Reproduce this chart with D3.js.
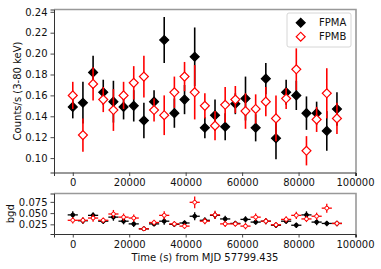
<!DOCTYPE html>
<html>
<head>
<meta charset="utf-8">
<script src="https://cdn.jsdelivr.net/npm/d3@7"></script>
<style>
  body { margin: 0; background: #fff; }
  svg { display: block; font-family: "DejaVu Sans", sans-serif; }
</style>
</head>
<body>
<div id="chart"></div>
<script>
// Temps depuis MJD 57799.435 (s)
const time = [0, 3600, 7200, 10800, 14400, 18000, 21600, 25200, 28800, 32400, 36000, 39600, 43200, 46800,
  50400, 54000, 57600, 61200, 64800, 68400, 72000, 75600, 79200, 82800, 86400, 90000, 93600];
const binHalfWidth = 1800;

// Taux de comptage 3-80 keV
const fpmaRate = [0.149, 0.153, 0.182, 0.163, 0.154, 0.149, 0.150, 0.136, 0.154, 0.213, 0.143, 0.156, 0.197, 0.129,
  0.141, 0.130, 0.152, 0.157, 0.129, 0.176, 0.119, 0.163, 0.160, 0.143, 0.143, 0.126, 0.147];
const fpmaErr = [0.011, 0.020, 0.016, 0.012, 0.020, 0.012, 0.015, 0.017, 0.011, 0.022, 0.014, 0.014, 0.028, 0.010,
  0.015, 0.013, 0.010, 0.021, 0.013, 0.015, 0.020, 0.012, 0.014, 0.016, 0.011, 0.019, 0.016];
const fpmbRate = [0.160, 0.122, 0.171, 0.156, 0.146, 0.160, 0.172, 0.178, 0.146, 0.141, 0.163, 0.178, 0.163, 0.150,
  0.131, 0.151, 0.156, 0.145, 0.147, 0.154, 0.138, 0.157, 0.185, 0.107, 0.137, 0.162, 0.138];
const fpmbErr = [0.013, 0.016, 0.016, 0.012, 0.020, 0.013, 0.016, 0.020, 0.011, 0.019, 0.015, 0.014, 0.026, 0.012,
  0.014, 0.017, 0.013, 0.017, 0.014, 0.014, 0.022, 0.010, 0.020, 0.014, 0.012, 0.024, 0.015];

// Fond (bgd)
const bgdA = [0.046, 0.033, 0.045, 0.032, 0.041, 0.032, 0.026, 0.015, 0.026, 0.032, 0.025, 0.028, 0.043, 0.034,
  0.045, 0.037, 0.027, 0.036, 0.030, 0.032, 0.023, 0.032, 0.023, 0.046, 0.030, 0.027, 0.027];
const bgdAErr = [0.008, 0.007, 0.007, 0.006, 0.008, 0.007, 0.007, 0.005, 0.006, 0.008, 0.006, 0.006, 0.009, 0.007,
  0.008, 0.007, 0.006, 0.007, 0.006, 0.007, 0.006, 0.006, 0.006, 0.008, 0.007, 0.006, 0.006];
const bgdB = [0.034, 0.034, 0.039, 0.034, 0.048, 0.041, 0.039, 0.015, 0.029, 0.045, 0.026, 0.021, 0.074, 0.032,
  0.046, 0.026, 0.026, 0.021, 0.041, 0.032, 0.024, 0.036, 0.045, 0.037, 0.043, 0.061, 0.027];
const bgdBErr = [0.007, 0.007, 0.008, 0.006, 0.009, 0.008, 0.008, 0.005, 0.006, 0.009, 0.006, 0.006, 0.013, 0.007,
  0.009, 0.007, 0.006, 0.007, 0.008, 0.007, 0.006, 0.007, 0.008, 0.007, 0.008, 0.010, 0.006];

const xTicks = [0, 20000, 40000, 60000, 80000, 100000];
const rateTicks = [0.10, 0.12, 0.14, 0.16, 0.18, 0.20, 0.22, 0.24];
const bgdTicks = [0.025, 0.050, 0.075];

const width = 381, height = 269;
const left = 54, right = 356;
const top1 = 9.5, bottom1 = 172.5;
const top2 = 193.5, bottom2 = 234;

const svg = d3.select('#chart').append('svg')
  .attr('width', width)
  .attr('height', height);

const x = d3.scaleLinear().domain([-6650, 100350]).range([left, right]);
const y1 = d3.scaleLinear().domain([0.0862, 0.2422]).range([bottom1, top1]);
const y2 = d3.scaleLinear().domain([0.0035, 0.0936]).range([bottom2, top2]);

// Cadre d'un panneau : haut/droite gris, gauche/bas foncés
const drawFrame = (y0, y1p) => {
  svg.append('path')
    .attr('d', `M${left},${y0}H${right}V${y1p}`)
    .attr('fill', 'none').attr('stroke', '#999').attr('stroke-width', 1.6);
};

const styleAxis = g => {
  g.select('.domain').attr('stroke', '#333').attr('stroke-width', 1);
  g.selectAll('.tick line').attr('stroke', '#333').attr('stroke-width', 0.9);
  g.selectAll('.tick text').attr('fill', '#111').style('font-size', '10px')
    .style('font-family', '"DejaVu Sans", sans-serif');
};

drawFrame(top1, bottom1);
drawFrame(top2, bottom2);

svg.append('g').attr('transform', `translate(0,${bottom1})`)
  .call(d3.axisBottom(x).tickValues(xTicks).tickFormat(d3.format('d')).tickSizeOuter(0).tickSize(3.5).tickPadding(3))
  .call(styleAxis);
svg.append('g').attr('transform', `translate(${left},0)`)
  .call(d3.axisLeft(y1).tickValues(rateTicks).tickFormat(d3.format('.2f')).tickSizeOuter(0).tickSize(3.5).tickPadding(3))
  .call(styleAxis);
svg.append('g').attr('transform', `translate(0,${bottom2})`)
  .call(d3.axisBottom(x).tickValues(xTicks).tickFormat(d3.format('d')).tickSizeOuter(0).tickSize(3.5).tickPadding(3))
  .call(styleAxis);
svg.append('g').attr('transform', `translate(${left},0)`)
  .call(d3.axisLeft(y2).tickValues(bgdTicks).tickFormat(d3.format('.3f')).tickSizeOuter(0).tickSize(3.5).tickPadding(3))
  .call(styleAxis);

// Libellés des axes
svg.append('text')
  .attr('transform', `translate(17,${(top1 + bottom1) / 2}) rotate(-90)`)
  .attr('text-anchor', 'middle').attr('dominant-baseline', 'central')
  .style('font-size', '10px').attr('fill', '#111')
  .text('Counts/s (3-80 keV)');
svg.append('text')
  .attr('transform', `translate(10,${(top2 + bottom2) / 2}) rotate(-90)`)
  .attr('text-anchor', 'middle').attr('dominant-baseline', 'central')
  .style('font-size', '10px').attr('fill', '#111')
  .text('bgd');
svg.append('text')
  .attr('x', (left + right) / 2).attr('y', 260.5)
  .attr('text-anchor', 'middle')
  .style('font-size', '10px').attr('fill', '#111')
  .text('Time (s) from MJD 57799.435');

const diamond = d3.symbol().type(d3.symbolSquare).size(40);

const seriesTop = [
  { name: 'FPMA', rate: fpmaRate, err: fpmaErr, color: '#000', fill: '#000' },
  { name: 'FPMB', rate: fpmbRate, err: fpmbErr, color: '#f00', fill: '#fff' }
];

seriesTop.forEach(s => {
  const g = svg.append('g');
  g.selectAll('line.err')
    .data(time)
    .join('line')
    .attr('class', 'err')
    .attr('x1', d => x(d)).attr('x2', d => x(d))
    .attr('y1', (d, i) => y1(s.rate[i] - s.err[i]))
    .attr('y2', (d, i) => y1(s.rate[i] + s.err[i]))
    .attr('stroke', s.color).attr('stroke-width', 1.6);
  g.selectAll('path.pt')
    .data(time)
    .join('path')
    .attr('class', 'pt')
    .attr('d', diamond)
    .attr('transform', (d, i) => `translate(${x(d)},${y1(s.rate[i])}) rotate(45)`)
    .attr('fill', s.fill).attr('stroke', s.color).attr('stroke-width', 1.2);
});

// Légende
const legend = svg.append('g');
legend.append('rect')
  .attr('x', 287).attr('y', 13).attr('width', 64).attr('height', 34).attr('rx', 2)
  .attr('fill', '#fff').attr('fill-opacity', 0.8).attr('stroke', '#ccc').attr('stroke-width', 0.8);
seriesTop.forEach((s, i) => {
  const ly = 22.7 + i * 14;
  legend.append('path')
    .attr('d', diamond)
    .attr('transform', `translate(300.7,${ly}) rotate(45)`)
    .attr('fill', s.fill).attr('stroke', s.color).attr('stroke-width', 1.2);
  legend.append('text')
    .attr('x', 319).attr('y', ly).attr('dominant-baseline', 'central')
    .style('font-size', '10px').attr('fill', '#111')
    .text(s.name);
});

// Panneau du fond
const seriesBgd = [
  { val: bgdA, err: bgdAErr, color: '#000', fill: '#000' },
  { val: bgdB, err: bgdBErr, color: '#f00', fill: '#fff' }
];

seriesBgd.forEach(s => {
  const g = svg.append('g');
  g.selectAll('line.xe')
    .data(time)
    .join('line')
    .attr('x1', d => x(d - binHalfWidth)).attr('x2', d => x(d + binHalfWidth))
    .attr('y1', (d, i) => y2(s.val[i])).attr('y2', (d, i) => y2(s.val[i]))
    .attr('stroke', s.color).attr('stroke-width', 1.3);
  g.selectAll('line.ye')
    .data(time)
    .join('line')
    .attr('x1', d => x(d)).attr('x2', d => x(d))
    .attr('y1', (d, i) => y2(s.val[i] - s.err[i]))
    .attr('y2', (d, i) => y2(s.val[i] + s.err[i]))
    .attr('stroke', s.color).attr('stroke-width', 1.3);
  g.selectAll('circle')
    .data(time)
    .join('circle')
    .attr('cx', d => x(d))
    .attr('cy', (d, i) => y2(s.val[i]))
    .attr('r', 1.9)
    .attr('fill', s.fill).attr('stroke', s.color).attr('stroke-width', 1);
});
</script>
</body>
</html>
